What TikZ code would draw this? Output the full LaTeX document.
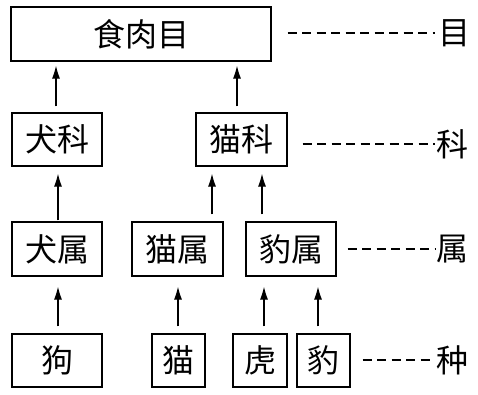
\documentclass[tikz,border=0pt]{standalone}
\usepackage{fontspec}
\setmainfont{Noto Sans CJK SC}
\usetikzlibrary{arrows.meta,calc}
\begin{document}
\begin{tikzpicture}[x=1pt,y=-1pt,
  box/.style={draw,line width=1.2pt,inner sep=0pt,minimum height=53pt,font=\fontsize{32}{32}\selectfont},
  lvl/.style={inner sep=0pt,font=\fontsize{32}{32}\selectfont},
  arr/.style={line width=1.1pt,-{Latex[length=13pt,width=8pt]}},
  dashline/.style={line width=1.2pt,dash pattern=on 9pt off 5.5pt}]
\useasboundingbox (0,0) rectangle (478,394);
% boxes
\node[box,minimum width=260pt,minimum height=54pt] (top) at (141,34) {食肉目};
\node[box,minimum width=90pt] (qk) at (57,139.5) {犬科};
\node[box,minimum width=91pt] (mk) at (241.5,139.5) {猫科};
\node[box,minimum width=90pt,minimum height=54pt] (qs) at (57,249) {犬属};
\node[box,minimum width=91pt,minimum height=54pt] (ms) at (177.5,249) {猫属};
\node[box,minimum width=90pt,minimum height=54pt] (bs) at (291,249) {豹属};
\node[box,minimum width=90pt] (gou) at (57,360.5) {狗};
\node[box,minimum width=53pt] (mao) at (178.5,360.5) {猫};
\node[box,minimum width=54pt] (hu) at (260,360.5) {虎};
\node[box,minimum width=53pt] (bao) at (323.5,360.5) {豹};
% level labels
\node[lvl] (lm) at (454,33) {目};
\node[lvl] (lk) at (452,144) {科};
\node[lvl] (ls) at (452,249) {属};
\node[lvl] (lz) at (452,360) {种};
% dashed lines
\draw[dashline] ([xshift=16pt]top.east |- lm) -- ([xshift=-3pt]lm.west);
\draw[dashline] ([xshift=15pt]mk.east |- lk) -- ([xshift=-1pt]lk.west);
\draw[dashline] ([xshift=11pt]bs.east |- ls) -- ([xshift=-1pt]ls.west);
\draw[dashline] ([xshift=12pt]bao.east |- lz) -- ([xshift=-1pt]lz.west);
% arrows
\draw[arr] ($(qk.north)+(-1,-6)$) -- ($(top.south -| qk.north)+(-1,4)$);
\draw[arr] ($(mk.north)+(-4.5,-6)$) -- ($(top.south -| mk.north)+(-4.5,4)$);
\draw[arr] ($(qs.north)+(1,-1)$) -- ($(qk.south)+(1,7)$);
\draw[arr] ($(ms.north)+(34.5,-7)$) -- ($(mk.south)+(-29.5,7)$);
\draw[arr] ($(bs.north)+(-29,-7)$) -- ($(mk.south)+(20.5,7)$);
\draw[arr] ($(gou.north)+(1,-7)$) -- ($(qs.south)+(1,10)$);
\draw[arr] ($(mao.north)+(-0.5,-7)$) -- ($(ms.south)+(0.5,10)$);
\draw[arr] ($(hu.north)+(4,-7)$) -- ($(bs.south)+(-27,10)$);
\draw[arr] ($(bao.north)+(-5.5,-7)$) -- ($(bs.south)+(27,10)$);
\end{tikzpicture}
\end{document}
